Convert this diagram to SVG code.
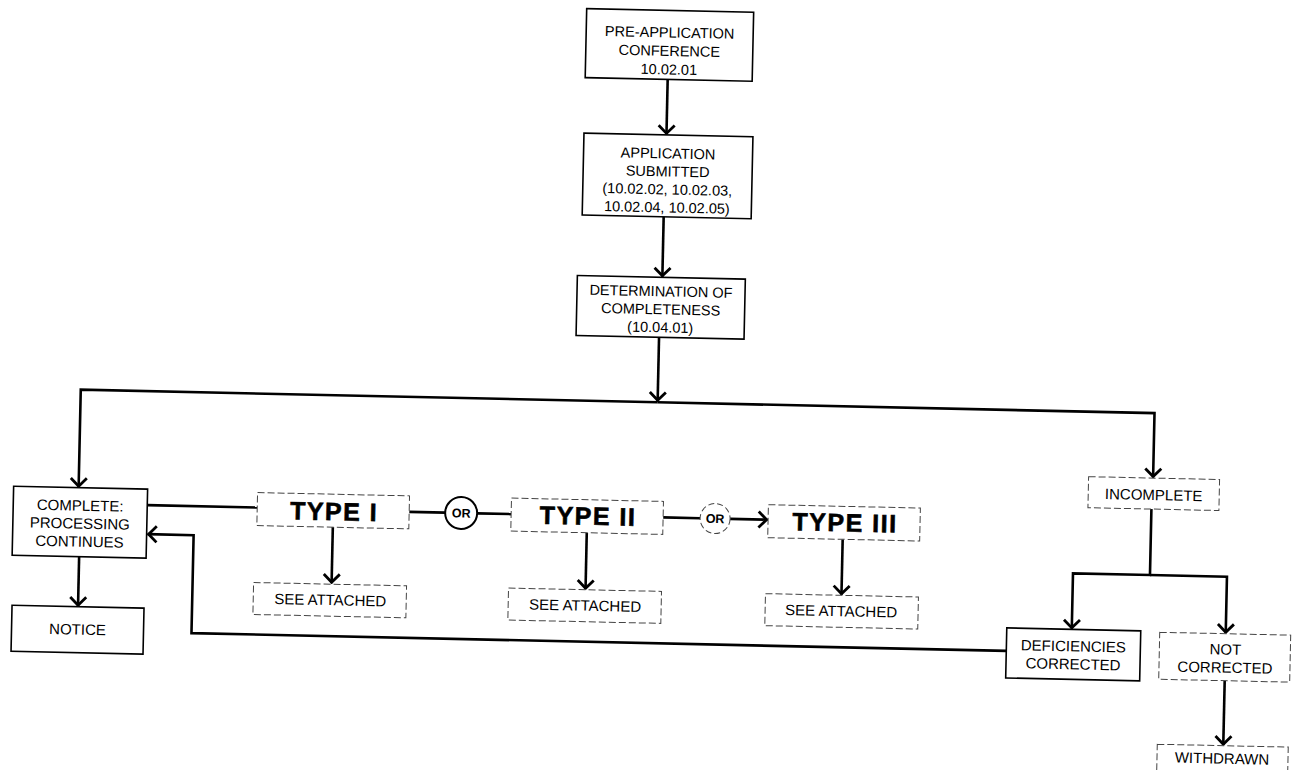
<svg xmlns="http://www.w3.org/2000/svg" width="1293" height="770" viewBox="0 0 1293 770">
<defs>
<style>
.box{fill:#fff;stroke:#000;stroke-width:1.6}
.dbox{fill:#fff;stroke:#444;stroke-width:1;stroke-dasharray:7 3}
.t{font-family:"Liberation Sans",Arial,sans-serif;font-size:14.5px;fill:#000;text-anchor:middle}
.t2{font-family:"Liberation Sans",Arial,sans-serif;font-size:15px;fill:#000;text-anchor:middle}
.ty{font-family:"Liberation Sans",Arial,sans-serif;font-size:25px;font-weight:900;letter-spacing:1.5px;fill:#000;stroke:#000;stroke-width:0.6;text-anchor:middle}
.or{font-family:"Liberation Sans",Arial,sans-serif;font-size:12.5px;font-weight:bold;fill:#000;text-anchor:middle}
.c{fill:none;stroke:#000;stroke-width:2.6}
.ca{fill:none;stroke:#000;stroke-width:2.6;marker-end:url(#ah)}
</style>
<marker id="ah" markerWidth="20" markerHeight="20" viewBox="0 0 20 20" refX="11" refY="10" orient="auto" markerUnits="userSpaceOnUse">
<path d="M2,2 L10,10 L2,18" fill="none" stroke="#000" stroke-width="2.8"/>
</marker>
</defs>
<rect width="1293" height="770" fill="#fff"/>
<g transform="rotate(1.25 646 385)">
<g id="connectors">
<path class="ca" d="M661,79 L661,134"/>
<path class="ca" d="M660,216.5 L660,276.5"/>
<path class="ca" d="M658,337 L658,401"/>
<path class="ca" d="M658,402 L81,402 L81,499.5"/>
<path class="ca" d="M658,402 L1155,402 L1155,466.5"/>
<path class="ca" d="M83,569 L83,618.5"/>
<path class="c" d="M150,516 L260,516"/>
<path class="c" d="M412,517 L448,517"/>
<path class="c" d="M480,517 L514,517"/>
<path class="c" d="M666,517 L703,517"/>
<path class="ca" d="M733,517 L770.5,517"/>
<path class="ca" d="M336,533 L336,590"/>
<path class="ca" d="M590,534 L590,590.5"/>
<path class="ca" d="M846,535 L846,590.5"/>
<path class="ca" d="M1154,498 L1154,564 L1077,564 L1077,619.5"/>
<path class="ca" d="M1154,564 L1231,564 L1231,620.5"/>
<path class="ca" d="M1231,668 L1231,732.5"/>
<path class="ca" d="M1012,643 L197,643 L197,545 L151,545"/>
</g>
<g id="pre-application">
<rect class="box" x="578.5" y="10" width="167" height="69"/>
<text class="t" x="662" y="37">PRE-APPLICATION</text>
<text class="t" x="662" y="55.5">CONFERENCE</text>
<text class="t" x="662" y="74">10.02.01</text>
</g>
<g id="application-submitted">
<rect class="box" x="578.5" y="134.5" width="169" height="82"/>
<text class="t" x="663" y="158">APPLICATION</text>
<text class="t" x="663" y="176">SUBMITTED</text>
<text class="t" x="663" y="194">(10.02.02, 10.02.03,</text>
<text class="t" x="663" y="212">10.02.04, 10.02.05)</text>
</g>
<g id="determination">
<rect class="box" x="575" y="277" width="168" height="60"/>
<text class="t" x="659" y="296">DETERMINATION OF</text>
<text class="t" x="659" y="314">COMPLETENESS</text>
<text class="t" x="659" y="332">(10.04.01)</text>
</g>
<g id="complete">
<rect class="box" x="16" y="500" width="134" height="69"/>
<text class="t2" x="83" y="523">COMPLETE:</text>
<text class="t2" x="83" y="541">PROCESSING</text>
<text class="t2" x="83" y="559">CONTINUES</text>
</g>
<g id="notice">
<rect class="box" x="17" y="619" width="132" height="46"/>
<text class="t2" x="83" y="647">NOTICE</text>
</g>
<g id="type1">
<rect class="dbox" x="260" y="501" width="152" height="33"/>
<text class="ty" x="337" y="527">TYPE I</text>
</g>
<g id="or1">
<circle cx="464" cy="517" r="16" fill="#fff" stroke="#000" stroke-width="2"/>
<text class="or" x="464" y="521.5">OR</text>
</g>
<g id="type2">
<rect class="dbox" x="514" y="501" width="152" height="33"/>
<text class="ty" x="591" y="526">TYPE II</text>
</g>
<g id="or2">
<circle cx="718" cy="517" r="15" fill="#fff" stroke="#444" stroke-width="1" stroke-dasharray="6 3"/>
<text class="or" x="718" y="521.5">OR</text>
</g>
<g id="type3">
<rect class="dbox" x="771" y="502" width="152" height="33"/>
<text class="ty" x="848" y="527">TYPE III</text>
</g>
<g id="see-attached-1">
<rect class="dbox" x="258" y="591" width="153" height="32"/>
<text class="t2" x="335" y="612">SEE ATTACHED</text>
</g>
<g id="see-attached-2">
<rect class="dbox" x="513" y="591" width="153" height="32"/>
<text class="t2" x="590" y="612">SEE ATTACHED</text>
</g>
<g id="see-attached-3">
<rect class="dbox" x="770" y="591" width="153" height="32"/>
<text class="t2" x="846" y="612">SEE ATTACHED</text>
</g>
<g id="incomplete">
<rect class="dbox" x="1090.5" y="467" width="131" height="31"/>
<text class="t2" x="1156" y="489">INCOMPLETE</text>
</g>
<g id="deficiencies-corrected">
<rect class="box" x="1012" y="620" width="134" height="50"/>
<text class="t2" x="1079" y="642">DEFICIENCIES</text>
<text class="t2" x="1079" y="660">CORRECTED</text>
</g>
<g id="not-corrected">
<rect class="dbox" x="1165" y="621" width="131" height="47"/>
<text class="t2" x="1231" y="642">NOT</text>
<text class="t2" x="1231" y="660">CORRECTED</text>
</g>
<g id="withdrawn">
<rect class="dbox" x="1165" y="733" width="131" height="47"/>
<text class="t2" x="1230" y="751">WITHDRAWN</text>
</g>
</g>
</svg>
